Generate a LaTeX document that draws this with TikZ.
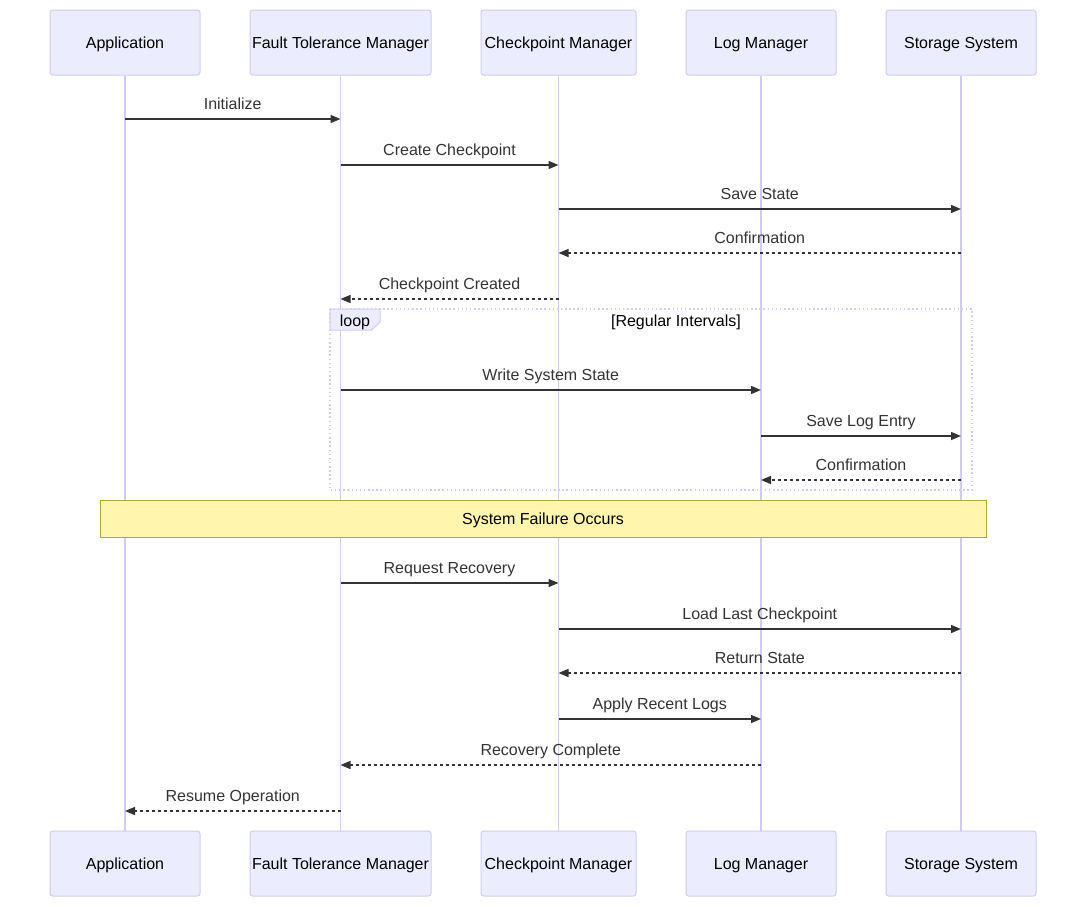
\documentclass[tikz,border=0pt]{standalone}
\usepackage{fontspec}
\setmainfont{Liberation Sans}
\usetikzlibrary{arrows.meta,positioning}
\definecolor{actorfill}{HTML}{ECECFF}
\definecolor{actorline}{HTML}{D3CAF2}
\definecolor{msgline}{HTML}{333333}
\definecolor{notefill}{HTML}{FFF5AD}
\definecolor{noteline}{HTML}{AAAA33}
\tikzset{actor/.style={rectangle,rounded corners=2pt,draw=actorline,fill=actorfill,line width=0.75pt,minimum width=112.5pt,minimum height=48.75pt,inner xsep=1.5pt,text height=0.9em,text depth=0pt,font=\fontsize{12}{14}\selectfont}}
\tikzset{lifeline/.style={draw=actorline,line width=1.1pt}}
\tikzset{msg/.style={draw=msgline,line width=1.1pt,-{Triangle[length=7.5pt,width=6pt]}}}
\tikzset{reply/.style={msg,dash pattern=on 2.25pt off 2.25pt}}
\tikzset{msglabel/.style={anchor=base,yshift=7pt,inner sep=0pt,text=msgline,font=\fontsize{12}{14}\selectfont}}
\tikzset{looptext/.style={text height=0.8em,text depth=0pt,font=\fontsize{12}{14}\selectfont}}
\tikzset{loopframe/.style={draw=actorline,line width=1.1pt,dotted}}
\tikzset{note/.style={rectangle,draw=noteline,fill=notefill,line width=0.75pt,minimum width=664.5pt,minimum height=27.75pt,text height=0.9em,text depth=0pt,font=\fontsize{12}{14}\selectfont}}

\begin{document}
\begin{tikzpicture}[x=0.75pt,y=-0.75pt]
\useasboundingbox (0,0) rectangle (1086,907);
	\node (app)  [actor] at (125,42.5) {Application} ;
	\node (ftm)  [actor, minimum width=135.75pt] at (340.5,42.5) {Fault Tolerance Manager} ;
	\node (cpm)  [actor, minimum width=116.25pt] at (558.5,42.5) {Checkpoint Manager} ;
	\node (logm) [actor] at (761,42.5) {Log Manager} ;
	\node (stor) [actor] at (961,42.5) {Storage System} ;
	\node (appB)  [actor] at (125,863.5) {Application} ;
	\node (ftmB)  [actor, minimum width=135.75pt] at (340.5,863.5) {Fault Tolerance Manager} ;
	\node (cpmB)  [actor, minimum width=116.25pt] at (558.5,863.5) {Checkpoint Manager} ;
	\node (logmB) [actor] at (761,863.5) {Log Manager} ;
	\node (storB) [actor] at (961,863.5) {Storage System} ;
	\draw [lifeline] (app) -- (appB);
	\draw [lifeline] (ftm) -- (ftmB);
	\draw [lifeline] (cpm) -- (cpmB);
	\draw [lifeline] (logm) -- (logmB);
	\draw [lifeline] (stor) -- (storB);
	% loop frame
	\draw [loopframe] (330,309) rectangle (972,490);
	\draw [draw=actorline,fill=actorfill,line width=0.75pt] (330,309) -- (380,309) -- (380,322) -- (371.6,330) -- (330,330) -- cycle;
	\node (looptag) [looptext] at (355,321) {loop} ;
	\node (loopcond) [looptext] at (676,321.5) {[Regular Intervals]} ;
	\coordinate (m1) at (0,119);
	\coordinate (m2) at (0,165);
	\coordinate (m3) at (0,209);
	\coordinate (m4) at (0,253);
	\coordinate (m5) at (0,299);
	\coordinate (m6) at (0,390);
	\coordinate (m7) at (0,436);
	\coordinate (m8) at (0,480);
	\coordinate (m9) at (0,583);
	\coordinate (m10) at (0,629);
	\coordinate (m11) at (0,673);
	\coordinate (m12) at (0,719);
	\coordinate (m13) at (0,765);
	\coordinate (m14) at (0,811);
	\draw [msg] (app |- m1) -- node [msglabel] {Initialize} (ftm |- m1);
	\draw [msg] (ftm |- m2) -- node [msglabel] {Create Checkpoint} (cpm |- m2);
	\draw [msg] (cpm |- m3) -- node [msglabel] {Save State} (stor |- m3);
	\draw [reply] (stor |- m4) -- node [msglabel] {Confirmation} (cpm |- m4);
	\draw [reply] (cpm |- m5) -- node [msglabel] {Checkpoint Created} (ftm |- m5);
	\draw [msg] (ftm |- m6) -- node [msglabel] {Write System State} (logm |- m6);
	\draw [msg] (logm |- m7) -- node [msglabel] {Save Log Entry} (stor |- m7);
	\draw [reply] (stor |- m8) -- node [msglabel] {Confirmation} (logm |- m8);
	\node (fail) [note] at (543,518.5) {System Failure Occurs} ;
	\draw [msg] (ftm |- m9) -- node [msglabel] {Request Recovery} (cpm |- m9);
	\draw [msg] (cpm |- m10) -- node [msglabel] {Load Last Checkpoint} (stor |- m10);
	\draw [reply] (stor |- m11) -- node [msglabel] {Return State} (cpm |- m11);
	\draw [msg] (cpm |- m12) -- node [msglabel] {Apply Recent Logs} (logm |- m12);
	\draw [reply] (logm |- m13) -- node [msglabel] {Recovery Complete} (ftm |- m13);
	\draw [reply] (ftm |- m14) -- node [msglabel] {Resume Operation} (app |- m14);
\end{tikzpicture}
\end{document}
